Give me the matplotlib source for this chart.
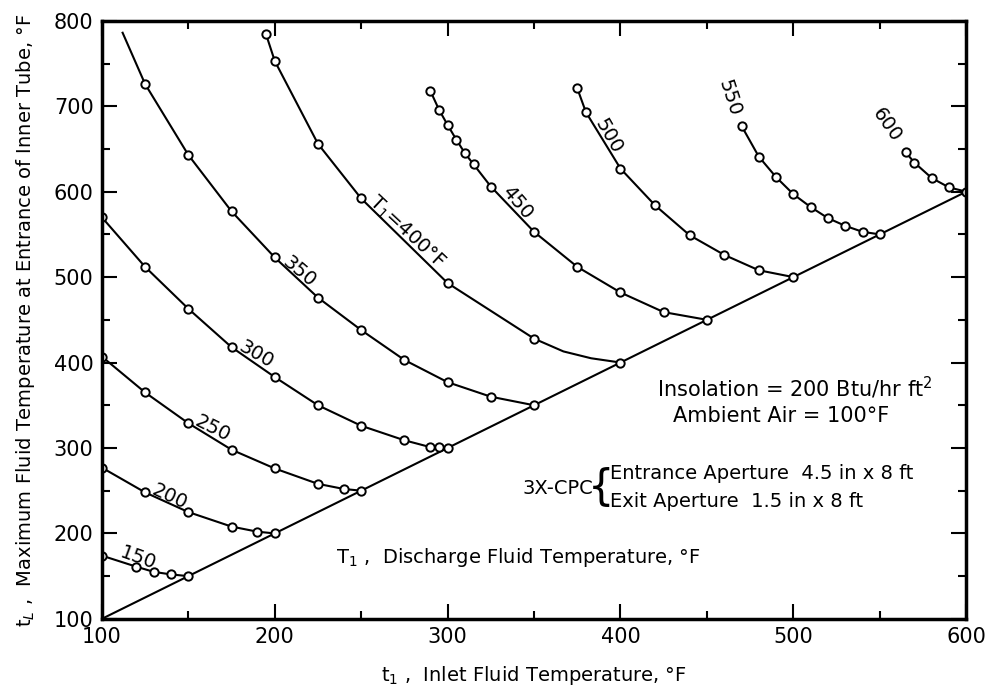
import matplotlib.pyplot as plt

# curves of constant discharge temperature T1 (deg F)
x150 = [100, 120, 130, 140, 150]
y150 = [174, 161, 155, 152, 150]

x200 = [100, 125, 150, 175, 190, 200]
y200 = [277, 248, 225, 208, 202, 200]

x250 = [100, 125, 150, 175, 200, 225, 240, 250]
y250 = [407, 365, 329, 298, 276, 258, 252, 250]

x300 = [100, 125, 150, 175, 200, 225, 250, 275, 290, 295, 300]
y300 = [570, 512, 463, 418, 383, 350, 326, 309, 301, 301, 300]

# first point of the 350 curve is the line start, no circle there
x350 = [112, 125, 150, 175, 200, 225, 250, 275, 300, 325, 350]
y350 = [786, 726, 643, 577, 523, 476, 438, 403, 377, 360, 350]

# 367 and 383 are read off the line only (no circles)
x400 = [195, 200, 225, 250, 300, 350, 367, 383, 400]
y400 = [784, 753, 656, 592, 493, 428, 413, 405, 400]

x450 = [290, 295, 300, 305, 310, 315, 325, 350, 375, 400, 425, 450]
y450 = [718, 696, 678, 661, 645, 632, 606, 553, 512, 482, 459, 450]

x500 = [375, 380, 400, 420, 440, 460, 480, 500]
y500 = [721, 693, 627, 584, 549, 526, 508, 500]

x550 = [470, 480, 490, 500, 510, 520, 530, 540, 550]
y550 = [677, 641, 617, 597, 582, 569, 560, 553, 550]

x600 = [565, 570, 580, 590, 600]
y600 = [646, 634, 616, 605, 600]

diag_x = [100, 600]
diag_y = [100, 600]

# curve labels
lab_txt = ["150", "200", "250", "300", "350", "T$_1$=400°F", "450", "500", "550", "600"]
lab_x = [121, 139, 164, 189, 214, 276, 340, 393, 463, 554]
lab_y = [171, 243, 323, 410, 506, 552, 587, 665, 710, 678]
lab_rot = [-20, -25, -27, -30, -40, -43, -50, -60, -72, -55]

curves = [(x150, y150), (x200, y200), (x250, y250), (x300, y300), (x350, y350),
          (x400, y400), (x450, y450), (x500, y500), (x550, y550), (x600, y600)]
marks = [None, None, None, None, list(range(1, 11)),
         [0, 1, 2, 3, 4, 5, 8], None, None, None, None]

fig = plt.figure(figsize=(9.89, 6.93), dpi=100)
ax = fig.add_axes([0.103, 0.107, 0.874, 0.863])

ax.plot(diag_x, diag_y, color="black", lw=1.5)
for (cx, cy), m in zip(curves, marks):
    ax.plot(cx, cy, "-o", color="black", lw=1.5, mfc="white", ms=6, mew=1.4,
            markevery=m)

for t, lx, ly, r in zip(lab_txt, lab_x, lab_y, lab_rot):
    ax.text(lx, ly, t, rotation=r, fontsize=14, ha="center", va="center",
            rotation_mode="anchor")

ax.text(501, 370, "Insolation = 200 Btu/hr ft$^2$", fontsize=15, ha="center", va="center")
ax.text(493, 337, "Ambient Air = 100°F", fontsize=15, ha="center", va="center")
ax.text(384, 253, "3X-CPC", fontsize=14, ha="right", va="center")
ax.text(389, 253, "{", fontsize=30, ha="center", va="center")
ax.text(394, 270, "Entrance Aperture  4.5 in x 8 ft", fontsize=14, ha="left", va="center")
ax.text(394, 237, "Exit Aperture  1.5 in x 8 ft", fontsize=14, ha="left", va="center")
ax.text(341, 172, "T$_1$ ,  Discharge Fluid Temperature, °F", fontsize=14,
        ha="center", va="center")

ax.set_xlim(100, 600)
ax.set_ylim(100, 800)
ax.set_xticks(range(100, 601, 100))
ax.set_xticks(range(150, 600, 100), minor=True)
ax.set_yticks(range(100, 801, 100))
ax.set_yticks(range(150, 800, 100), minor=True)
ax.tick_params(which="both", direction="in", top=True, right=True, width=1.5,
               labelsize=15, pad=6)
ax.tick_params(which="major", length=11)
ax.tick_params(which="minor", length=6)
for s in ax.spines.values():
    s.set_linewidth(2.5)

ax.set_xlabel("t$_1$ ,  Inlet Fluid Temperature, °F", fontsize=14, labelpad=12)
ax.set_ylabel("t$_L$ ,  Maximum Fluid Temperature at Entrance of Inner Tube, °F",
              fontsize=14, labelpad=12)

plt.savefig("out.png", dpi=100)
